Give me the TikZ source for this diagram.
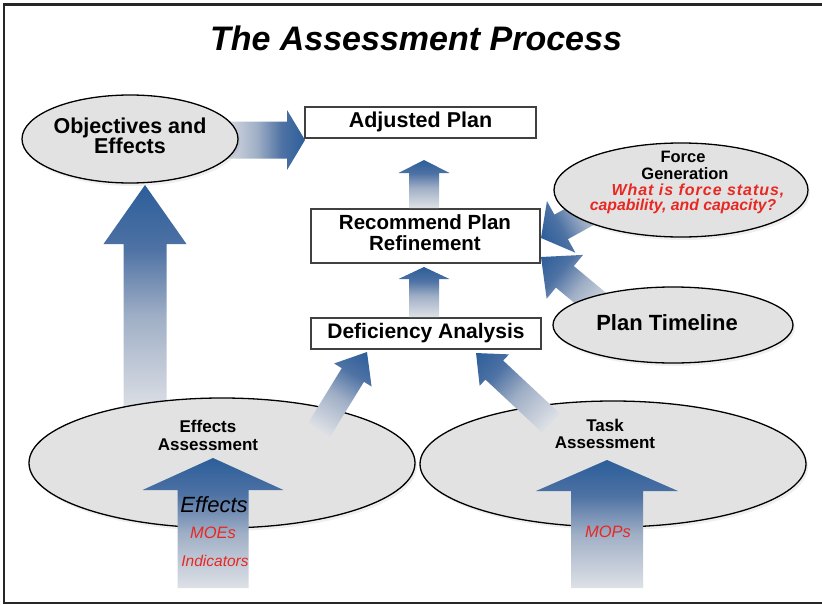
\documentclass[tikz,border=0pt]{standalone}
\usepackage{fontspec}
\setmainfont{Liberation Sans}
\usetikzlibrary{shapes.geometric,shadows}
\definecolor{arrblue}{RGB}{44,94,154}
\definecolor{arrhb}{RGB}{78,114,164}
\definecolor{arrmid}{RGB}{160,175,198}
\definecolor{arrlight}{RGB}{222,225,230}
\definecolor{ellfill}{RGB}{226,226,226}
\definecolor{redtxt}{RGB}{232,40,34}
\pgfdeclarehorizontalshading{arrsh}{100bp}{color(0bp)=(arrlight); color(25bp)=(arrlight); color(46bp)=(arrmid); color(61bp)=(arrhb); color(75bp)=(arrblue); color(100bp)=(arrblue)}
\newcommand\blockarr[8]{% name, x1,y1 (tail), x2,y2 (tip), shaft half, head half, head length
  \coordinate (#1-tail) at (#2,#3);
  \coordinate (#1-tip) at (#4,#5);
  \pgfmathsetmacro\bkang{atan2(-(#5-#3),#4-#2)}%
  \pgfmathsetmacro\bklen{veclen(#4-#2,#5-#3)}%
  \pgfmathsetmacro\bkhb{\bklen-#8}%
  \begin{scope}[transform canvas={shift={(#1-tail)},rotate=\bkang}]
    \shade[shading=arrsh] (0,-#6) -- (\bkhb,-#6) -- (\bkhb,-#7) -- (\bklen,0) -- (\bkhb,#7) -- (\bkhb,#6) -- (0,#6) -- cycle;
  \end{scope}}
\begin{document}
\begin{tikzpicture}[x=1pt,y=-1pt,
  ell/.style={ellipse, draw=black, line width=1.3pt, fill=ellfill, inner sep=0pt,
    drop shadow={shadow xshift=2pt, shadow yshift=-3pt, opacity=0.12}},
  boxnode/.style={rectangle, draw=black!75, line width=1.2pt, fill=white, inner sep=0pt},
  bt/.style={anchor=base, inner sep=0pt, font=\bfseries},
  rt/.style={anchor=base, inner sep=0pt, text=redtxt, font=\itshape},
]
\useasboundingbox (0,0) rectangle (822,605);
\fill[white] (0,0) rectangle (822,605);
% frame
\draw[line width=2.6pt, black!85] (830,4.5) -- (4,4.5) -- (4,603) -- (830,603);
% title
\node[anchor=base, inner sep=0pt, font=\fontsize{34}{40}\selectfont\bfseries\itshape] (title) at (416,50) {The Assessment Process};

% arrows behind ellipses
\blockarr{up}{145}{412}{145}{185}{21.5}{41.5}{59}
\blockarr{hor}{222}{140}{305}{140}{18.5}{30}{18}
\blockarr{fg}{610}{200}{541}{238}{14}{29.5}{23}
\blockarr{pt}{606}{311}{541}{257}{14}{28.5}{31}

% ellipses
\node[ell, minimum width=216pt, minimum height=88pt] (obj) at (130,139) {};
\node[ell, minimum width=254pt, minimum height=94pt] (force) at (681,190) {};
\node[ell, minimum width=240pt, minimum height=76pt] (plan) at (673,325) {};
\node[ell, minimum width=386pt, minimum height=130pt] (effa) at (222,463) {};
\node[ell, minimum width=386pt, minimum height=126pt] (taska) at (613,464) {};

% boxes
\node[boxnode, minimum width=231pt, minimum height=31pt] (adj) at (420.5,122.5) {};
\node[boxnode, minimum width=229pt, minimum height=54pt] (rec) at (425.5,236) {};
\node[boxnode, minimum width=230pt, minimum height=31pt] (def) at (426,333.5) {};

% small vertical arrows between boxes
\blockarr{ra}{424}{208}{424}{160}{15}{25.5}{13}
\blockarr{dr}{424}{317}{424}{267}{15}{25.5}{12}

% diagonal arrows from assessments
\blockarr{ed}{319}{430}{367}{352}{13}{22}{27}
\blockarr{td}{551}{423}{476}{353}{13}{21.5}{25}

% inner arrows
\blockarr{moe}{213}{588}{213}{458}{35.5}{70.5}{32}
\blockarr{mop}{607}{588}{607}{460}{36}{71}{31}

% texts
\node[bt, font=\fontsize{21.5}{24}\selectfont\bfseries] (objt1) at (130,133) {Objectives and};
\node[bt, font=\fontsize{21.5}{24}\selectfont\bfseries] (objt2) at (130,153) {Effects};
\node[bt, font=\fontsize{21.5}{24}\selectfont\bfseries] (adjt) at (420.5,127) {Adjusted Plan};
\node[bt, font=\fontsize{20.5}{24}\selectfont\bfseries] (rect1) at (425,229) {Recommend Plan};
\node[bt, font=\fontsize{20.5}{24}\selectfont\bfseries] (rect2) at (425,250) {Refinement};
\node[bt, font=\fontsize{21}{24}\selectfont\bfseries] (deft) at (426,338) {Deficiency Analysis};
\node[bt, font=\fontsize{16.5}{20}\selectfont\bfseries] (ft1) at (683,162) {Force};
\node[bt, font=\fontsize{16.5}{20}\selectfont\bfseries] (ft2) at (685,179) {Generation};
\node[rt, font=\fontsize{16}{20}\selectfont\bfseries\itshape\addfontfeature{LetterSpace=6}] (ft3) at (698,195) {What is force status,};
\node[rt, font=\fontsize{15.8}{20}\selectfont\bfseries\itshape] (ft4) at (683,210) {capability, and capacity?};
\node[bt, font=\fontsize{22}{24}\selectfont\bfseries] (plt) at (667,330) {Plan Timeline};
\node[bt, font=\fontsize{17}{20}\selectfont\bfseries] (eat1) at (208,432) {Effects};
\node[bt, font=\fontsize{17}{20}\selectfont\bfseries] (eat2) at (208,450) {Assessment};
\node[bt, font=\fontsize{17}{20}\selectfont\bfseries] (tat1) at (605,431) {Task};
\node[bt, font=\fontsize{17}{20}\selectfont\bfseries] (tat2) at (605,448) {Assessment};
\node[anchor=base, inner sep=0pt, font=\fontsize{22}{24}\selectfont\itshape] (efft) at (214,512) {Effects};
\node[rt, font=\fontsize{16.5}{20}\selectfont\itshape] (moet) at (213,538) {MOEs};
\node[rt, font=\fontsize{15.5}{20}\selectfont\itshape] (indt) at (215,566) {Indicators};
\node[rt, font=\fontsize{16.5}{20}\selectfont\itshape] (mopt) at (608,537) {MOPs};
\end{tikzpicture}
\end{document}
